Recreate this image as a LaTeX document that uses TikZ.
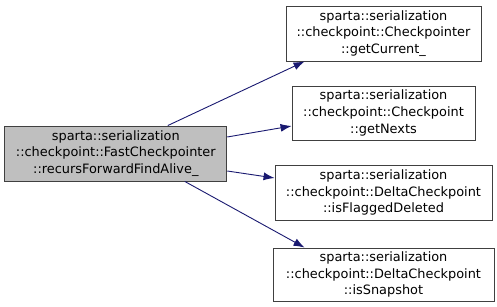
\documentclass[tikz,border=0pt]{standalone}
\usepackage{fontspec}
\setmainfont{DejaVu Sans}
\usetikzlibrary{arrows.meta}
\definecolor{edgeblue}{HTML}{191970}
\definecolor{boxline}{HTML}{404040}
\tikzset{
  fn/.style={draw=boxline, line width=0.9pt, fill=white, align=center, inner sep=0pt,
    font=\fontsize{12.9}{16.7}\selectfont},
  call/.style={draw=edgeblue, line width=0.9pt, -{Latex[length=11pt,width=8pt]}}
}
\begin{document}
\begin{tikzpicture}[x=1pt, y=1pt]
\useasboundingbox (0,0) rectangle (497,307);
\node[fn, fill={rgb,255:red,191;green,191;blue,191}, minimum width=222pt, minimum height=55pt] (fcp) at (115.8,153.5)
  {sparta::serialization\\::checkpoint::FastCheckpointer\\::recursForwardFindAlive\_};
\node[fn, minimum width=195pt, minimum height=55pt] (cur) at (383.5,273.5)
  {sparta::serialization\\::checkpoint::Checkpointer\\::getCurrent\_};
\node[fn, minimum width=183pt, minimum height=54pt] (nexts) at (383.5,194)
  {sparta::serialization\\::checkpoint::Checkpoint\\::getNexts};
\node[fn, minimum width=217pt, minimum height=55pt] (flagged) at (383.5,114.5)
  {sparta::serialization\\::checkpoint::DeltaCheckpoint\\::isFlaggedDeleted};
\node[fn, minimum width=221pt, minimum height=53pt] (snap) at (383.5,32.5)
  {sparta::serialization\\::checkpoint::DeltaCheckpoint\\::isSnapshot};
% calls
\draw[call] ([xshift=52pt]fcp.north) -- ([xshift=19pt]cur.south west);
\draw[call] ([yshift=16.5pt]fcp.east) -- ([yshift=-13pt]nexts.west);
\draw[call] ([yshift=-17.5pt]fcp.east) -- ([yshift=14.5pt]flagged.west);
\draw[call] ([xshift=69pt]fcp.south) -- ([xshift=32pt]snap.north west);
\end{tikzpicture}
\end{document}
